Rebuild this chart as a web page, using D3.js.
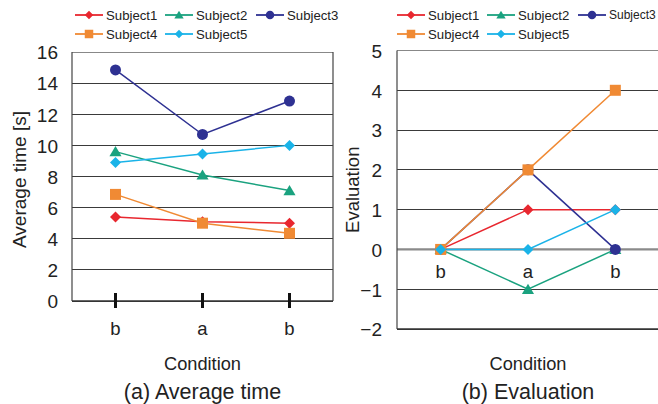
<!DOCTYPE html>
<html><head><meta charset="utf-8">
<script src="https://cdn.jsdelivr.net/npm/d3@7"></script>
<style>
html,body{margin:0;padding:0;background:#fff;}
svg{display:block;font-family:"Liberation Sans",Arial,sans-serif;}
</style></head>
<body><svg id="c" width="658" height="404"></svg>
<script>
const conditions = ["b", "a", "b"];
const subjects = ["Subject1", "Subject2", "Subject3", "Subject4", "Subject5"];
const colors = ["#e8272f", "#1aa27f", "#2e3192", "#f08a34", "#1ab3e8"];
const shapes = ["diamond", "triangle", "circle", "square", "diamond"];
const timeS1 = [5.4, 5.1, 5.0];
const timeS2 = [9.6, 8.1, 7.1];
const timeS3 = [14.85, 10.7, 12.85];
const timeS4 = [6.85, 5.0, 4.35];
const timeS5 = [8.9, 9.45, 10.0];
const evalS1 = [0, 1, 1];
const evalS2 = [0, -1, 0];
const evalS3 = [0, 2, 0];
const evalS4 = [0, 2, 4];
const evalS5 = [0, 0, 1];
const timeTicks = [0, 2, 4, 6, 8, 10, 12, 14, 16];
const evalTicks = [-2, -1, 0, 1, 2, 3, 4, 5];

const timeData = [timeS1, timeS2, timeS3, timeS4, timeS5];
const evalData = [evalS1, evalS2, evalS3, evalS4, evalS5];

const svg = d3.select("#c");

function marker(g, shape, size, color) {
  const h = size / 2;
  let el;
  if (shape === "circle") el = g.append("circle").attr("r", h);
  else if (shape === "square") el = g.append("rect").attr("x", -h).attr("y", -h).attr("width", size).attr("height", size);
  else if (shape === "diamond") el = g.append("path").attr("d", `M0,${-h}L${h},0L0,${h}L${-h},0Z`);
  else el = g.append("path").attr("d", `M0,${-h * 1.0}L${h * 1.1},${h * 0.85}L${-h * 1.1},${h * 0.85}Z`);
  el.attr("fill", color);
}

function panel(opts) {
  const { x0, x1, yTop, yBot, domain, ticks, data, caption, yTitle, yTitleX, yTitleSize, labelRight, xLabelY, axisTicks, zeroLine, legendX, legendLastSize } = opts;
  const g = svg.append("g");
  const x = d3.scaleBand().domain(d3.range(conditions.length)).range([x0, x1]);
  const y = d3.scaleLinear().domain(domain).range([yBot, yTop]);

  g.append("g").selectAll("line").data(ticks).join("line")
    .attr("x1", x0).attr("x2", x1)
    .attr("y1", d => y(d)).attr("y2", d => y(d))
    .attr("stroke", d => (d === domain[1] ? "#888" : "#3a3a3a"))
    .attr("stroke-width", 1)
    .attr("shape-rendering", "crispEdges");
  if (zeroLine) {
    g.append("line").attr("x1", x0).attr("x2", x1).attr("y1", y(0)).attr("y2", y(0))
      .attr("stroke", "#8a8a8a").attr("stroke-width", 2.2);
  }
  g.append("line").attr("x1", x0).attr("x2", x0).attr("y1", yTop).attr("y2", yBot)
    .attr("stroke", "#444").attr("stroke-width", 1.2);
  g.append("line").attr("x1", x1).attr("x2", x1).attr("y1", yTop).attr("y2", yBot)
    .attr("stroke", "#444").attr("stroke-width", 1.2);
  g.append("line").attr("x1", x0).attr("x2", x1).attr("y1", yBot).attr("y2", yBot)
    .attr("stroke", "#333").attr("stroke-width", 1.4);
  const ya = d3.axisLeft(y).tickValues(ticks).tickSize(0).tickPadding(0)
    .tickFormat(d => (d < 0 ? "\u2212" + Math.abs(d) : String(d)));
  const yag = g.append("g").attr("transform", `translate(${labelRight},0)`).call(ya);
  yag.select(".domain").remove();
  yag.selectAll("text").attr("font-size", 19).attr("fill", "#222")
    .attr("font-family", "Liberation Sans, Arial, sans-serif").attr("dy", "0.36em");

  const xa = d3.axisBottom(x).tickSize(0).tickPadding(0).tickFormat(i => conditions[i]);
  const xag = g.append("g").attr("transform", `translate(0,${xLabelY})`).call(xa);
  xag.select(".domain").remove();
  xag.selectAll("text").attr("font-size", 18.5).attr("fill", "#222")
    .attr("font-family", "Liberation Sans, Arial, sans-serif").attr("dy", "0.36em");
  if (axisTicks) {
    g.append("g").selectAll("line").data(d3.range(conditions.length)).join("line")
      .attr("x1", i => x(i) + x.bandwidth() / 2).attr("x2", i => x(i) + x.bandwidth() / 2)
      .attr("y1", yBot - 8).attr("y2", yBot + 7)
      .attr("stroke", "#111").attr("stroke-width", 3);
  }

  const line = d3.line().x((d, i) => x(i) + x.bandwidth() / 2).y(d => y(d));
  data.forEach((vals, s) => {
    g.append("path").attr("d", line(vals)).attr("fill", "none")
      .attr("stroke", colors[s]).attr("stroke-width", 1.5);
  });
  data.forEach((vals, s) => {
    vals.forEach((v, i) => {
      const mg = g.append("g").attr("transform", `translate(${x(i) + x.bandwidth() / 2},${y(v)})`);
      marker(mg, shapes[s], 11, colors[s]);
    });
  });

  const cx = (x0 + x1) / 2;
  g.append("text").attr("x", cx).attr("y", 364).attr("text-anchor", "middle")
    .attr("dominant-baseline", "central").attr("font-size", 18).attr("fill", "#222")
    .attr("textLength", 77).attr("lengthAdjust", "spacingAndGlyphs").text("Condition");
  g.append("text").attr("x", cx).attr("y", 392).attr("text-anchor", "middle")
    .attr("dominant-baseline", "central").attr("font-size", 21.5).attr("fill", "#222").text(caption);
  g.append("text").attr("transform", `translate(${yTitleX},${(yTop + yBot) / 2 + (opts.yTitleShift || 0)}) rotate(-90)`)
    .attr("text-anchor", "middle").attr("dominant-baseline", "central")
    .attr("font-size", yTitleSize).attr("fill", "#222").text(yTitle);

  const lpos = [[0, 0], [90, 0], [181, 0], [0, 1], [90, 1]];
  subjects.forEach((name, s) => {
    const lx = legendX + lpos[s][0], ly = 15 + lpos[s][1] * 19;
    const lg = g.append("g").attr("transform", `translate(${lx},${ly})`);
    lg.append("line").attr("x1", 0).attr("x2", 28).attr("y1", 0).attr("y2", 0)
      .attr("stroke", colors[s]).attr("stroke-width", 1.8);
    const mg = lg.append("g").attr("transform", "translate(14,0)");
    marker(mg, shapes[s], 8.5, colors[s]);
    lg.append("text").attr("x", 31).attr("y", 0).attr("dominant-baseline", "central")
      .attr("font-size", s === 2 ? legendLastSize : 13.2).attr("fill", "#222").text(name);
  });
}

panel({ x0: 72, x1: 333, yTop: 52, yBot: 301, domain: [0, 16], ticks: timeTicks, data: timeData,
  caption: "(a) Average time", yTitle: "Average time [s]", yTitleX: 19, yTitleSize: 19, yTitleShift: 3,
  labelRight: 58, xLabelY: 328, axisTicks: true, zeroLine: false, legendX: 75, legendLastSize: 13.2 });
panel({ x0: 397, x1: 659, yTop: 50.5, yBot: 329, domain: [-2, 5], ticks: evalTicks, data: evalData,
  caption: "(b) Evaluation", yTitle: "Evaluation", yTitleX: 352, yTitleSize: 18.5, yTitleShift: 0,
  labelRight: 382, xLabelY: 271, axisTicks: false, zeroLine: true, legendX: 397, legendLastSize: 12 });
</script>
</body></html>
